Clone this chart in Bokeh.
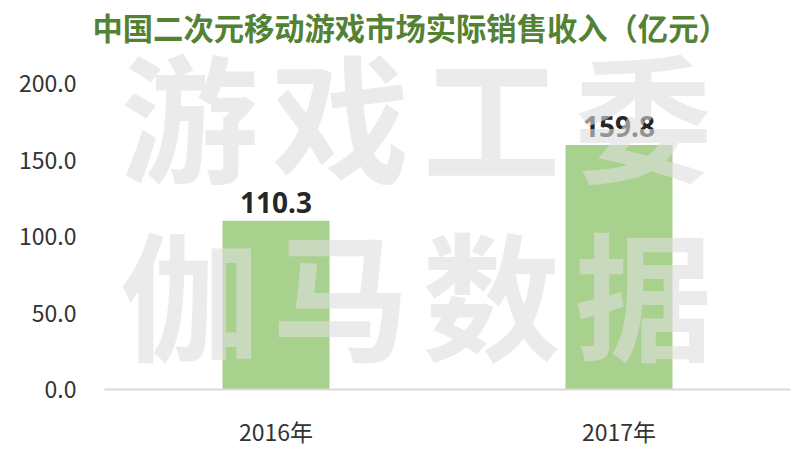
from bokeh.plotting import figure
from bokeh.models import ColumnDataSource, Range1d, FixedTicker, NumeralTickFormatter, Label, LabelSet
from bokeh.core.properties import value
from bokeh.embed import file_html
from bokeh.resources import INLINE

years = ["2016年", "2017年"]
revenue = [110.3, 159.8]
y_ticks = [0, 50, 100, 150, 200]
title_text = "中国二次元移动游戏市场实际销售收入（亿元）"
watermark_rows = [["游", "戏", "工", "委"], ["伽", "马", "数", "据"]]

src = ColumnDataSource(dict(x=years, y=revenue, lab=[f"{v:.1f}" for v in revenue]))

# frame spans 50..389 px; the value axis 0..200 occupies the lower 306 px
y_top = 200 * 339 / 306

p = figure(x_range=years, y_range=Range1d(0, y_top), width=805, height=450,
           output_backend="svg", toolbar_location=None,
           min_border_left=104, min_border_right=15, min_border_top=50, min_border_bottom=61)
p.x_range.range_padding = 0
p.outline_line_color = None
p.grid.grid_line_color = None
p.background_fill_color = "white"

p.title.text = title_text
p.title.align = "left"
p.title.offset = -12
p.title.standoff = 4
p.title.text_font = "Noto Sans CJK SC"
p.title.text_font_style = "bold"
p.title.text_font_size = "30.3px"
p.title.text_color = "#548235"

p.vbar(x="x", top="y", width=0.312, source=src, fill_color="#a9d18e", line_color=None)
p.add_layout(LabelSet(x="x", y="y", text="lab", source=src, text_align="center",
                      text_baseline="alphabetic", y_offset=8, text_font=value("Noto Sans"),
                      text_font_style=value("bold"), text_font_size=value("28px"),
                      text_color=value("#262626")))

# axes
p.yaxis.ticker = FixedTicker(ticks=y_ticks)
p.yaxis.formatter = NumeralTickFormatter(format="0.0")
p.yaxis.axis_line_color = None
p.yaxis.major_tick_line_color = None
p.yaxis.minor_tick_line_color = None
p.yaxis.major_tick_out = 0
p.yaxis.major_label_standoff = 28
p.yaxis.major_label_text_font = "Noto Sans CJK SC"
p.yaxis.major_label_text_font_size = "23px"
p.yaxis.major_label_text_color = "#333333"

p.xaxis.axis_line_color = "#d9d9d9"
p.xaxis.axis_line_width = 2
p.xaxis.major_tick_line_color = None
p.xaxis.minor_tick_line_color = None
p.xaxis.major_tick_out = 0
p.xaxis.major_label_standoff = 24
p.xaxis.major_label_text_font = "Noto Sans CJK SC"
p.xaxis.major_label_text_font_size = "23px"
p.xaxis.major_label_text_color = "#333333"

# watermark (drawn over the bars and labels, semi-transparent)
wm_x = [85, 236, 387, 539]
wm_y = [278, 100]
for row, yy in zip(watermark_rows, wm_y):
    for ch, xx in zip(row, wm_x):
        p.add_layout(Label(x=xx, y=yy, x_units="screen", y_units="screen", text=ch,
                           text_align="center", text_baseline="middle",
                           text_font="Noto Sans CJK SC", text_font_style="bold",
                           text_font_size="138px", text_color="#dddddd", text_alpha=0.6))

open("out.html", "w").write(file_html(p, INLINE))
